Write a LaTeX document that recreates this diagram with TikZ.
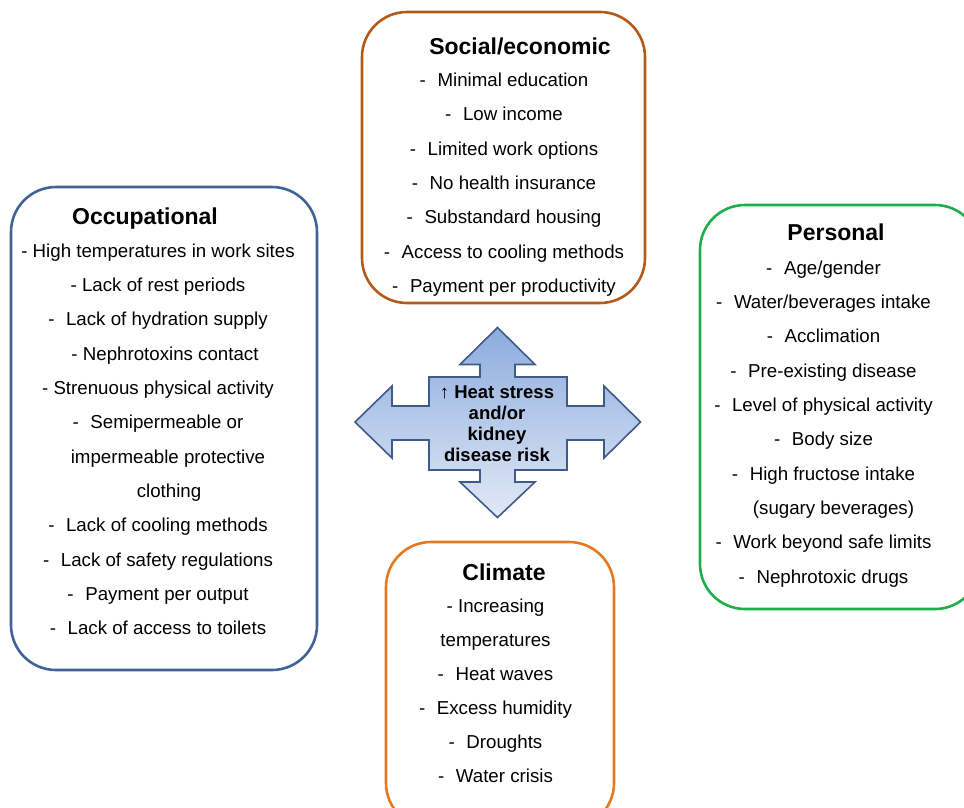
\documentclass[tikz,border=0pt]{standalone}
\usepackage{fontspec}
\setmainfont{Liberation Sans}

\definecolor{socialc}{RGB}{180,90,25}
\definecolor{occupc}{RGB}{64,98,150}
\definecolor{personc}{RGB}{30,175,75}
\definecolor{climatec}{RGB}{232,120,30}
\definecolor{arrtop}{RGB}{140,172,222}
\definecolor{arrbot}{RGB}{226,233,246}
\definecolor{arredge}{RGB}{62,92,135}

\tikzset{
	factorbox/.style={line width=2.6pt, rounded corners=45pt},
	boxtitle/.style={anchor=base, inner sep=0pt, font=\fontsize{23}{27}\selectfont\bfseries},
	% multi-line node: base anchor sits on the last line
	boxitems/.style={anchor=base, inner sep=0pt, align=center, font=\fontsize{18.7}{34.3}\selectfont},
}
\def\dashitem#1{-\hspace{.62em}#1}

\begin{document}
\begin{tikzpicture}[x=1pt, y=-1pt]
		%%%%% START %%%%%
		\useasboundingbox (0,0) rectangle (964,807);
		\clip (0,0) rectangle (964,807);
		
		% the four groups of factors
		\draw[factorbox, draw=socialc] (362,12) rectangle (645,303);
		\draw[factorbox, draw=occupc] (11,187) rectangle (317,670);
		\draw[factorbox, draw=personc] (700,205) rectangle (980,609);
		\draw[factorbox, draw=climatec] (386,542) rectangle (614,828);
		
		% four-way arrow in the middle
		\draw[top color=arrtop, bottom color=arrbot, draw=arredge, line width=1.6pt, line join=miter]
			(497.5,327.5) -- (535,364.5) -- (515,364.5) -- (515,377) -- (567,377) -- (567,406)
			-- (604,406) -- (604,386) -- (640.5,422) -- (604,458) -- (604,440) -- (567,440)
			-- (567,470) -- (515,470) -- (515,482) -- (535,482) -- (497.5,517.5) -- (460,482)
			-- (480,482) -- (480,470) -- (429,470) -- (429,440) -- (392,440) -- (392,458)
			-- (355,422) -- (392,386) -- (392,406) -- (429,406) -- (429,377) -- (480,377)
			-- (480,364.5) -- (460,364.5) -- cycle;
		\node[anchor=base, inner sep=0pt, align=center, font=\fontsize{18.5}{21}\selectfont\bfseries] (risk) at (497,461.3)
			{↑ Heat stress\\and/or\\kidney\\disease risk};
		
		% social/economic
		\node[boxtitle] (social) at (520,54) {Social/economic};
		\node[boxitems] (socialitems) at (504,292.3) {\dashitem{Minimal education}\\
			\dashitem{Low income}\\
			\dashitem{Limited work options}\\
			\dashitem{No health insurance}\\
			\dashitem{Substandard housing}\\
			\dashitem{Access to cooling methods}\\
			\dashitem{Payment per productivity}};
		
		% occupational
		\node[boxtitle] (occup) at (145,224.3) {Occupational};
		\node[boxitems] (occupitems) at (158,634.6) {- High temperatures in work sites\\
			- Lack of rest periods\\
			\dashitem{Lack of hydration supply}\\
			\hspace*{14pt}- Nephrotoxins contact\\
			- Strenuous physical activity\\
			\dashitem{Semipermeable or}\\
			\hspace*{20pt}impermeable protective\\
			\hspace*{22pt}clothing\\
			\dashitem{Lack of cooling methods}\\
			\dashitem{Lack of safety regulations}\\
			\dashitem{Payment per output}\\
			\dashitem{Lack of access to toilets}};
		
		% personal
		\node[boxtitle] (person) at (836,240.7) {Personal};
		\node[boxitems] (personitems) at (823.5,583) {\dashitem{Age/gender}\\
			\dashitem{Water/beverages intake}\hspace*{12pt}\\
			\dashitem{Acclimation}\\
			\dashitem{Pre-existing disease}\\
			\dashitem{Level of physical activity}\\
			\dashitem{Body size}\\
			\dashitem{High fructose intake}\\
			\hspace*{20pt}(sugary beverages)\\
			\dashitem{Work beyond safe limits}\\
			\dashitem{Nephrotoxic drugs}};
		
		% climate
		\node[boxtitle] (climate) at (504,580) {Climate};
		\node[boxitems, font=\fontsize{18.7}{34}\selectfont] (climateitems) at (495.5,782) {- Increasing\\
			temperatures\\
			\dashitem{Heat waves}\\
			\dashitem{Excess humidity}\\
			\dashitem{Droughts}\\
			\dashitem{Water crisis}};
		%%%%% END %%%%%
\end{tikzpicture}
\end{document}
